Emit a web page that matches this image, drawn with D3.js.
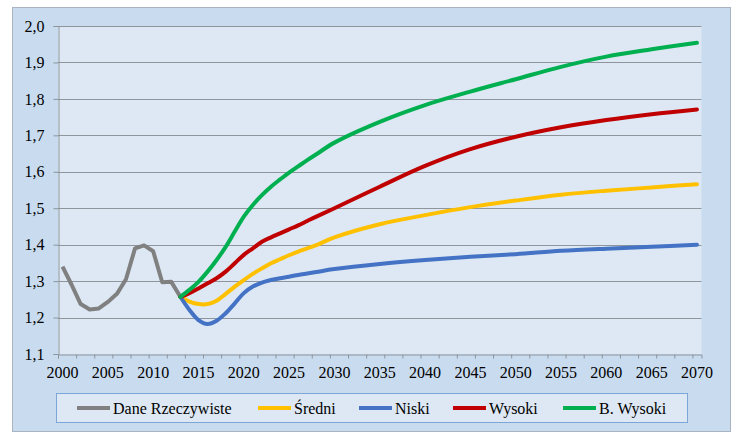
<!DOCTYPE html>
<html><head><meta charset="utf-8">
<script src="https://cdn.jsdelivr.net/npm/d3@7"></script>
<style>body{margin:0;background:#fff}svg{display:block}svg text{font-family:"Liberation Serif","DejaVu Serif",serif;}</style>
</head><body>
<script>
const actualYears = [2000,2001,2002,2003,2004,2005,2006,2007,2008,2009,2010,2011,2012,2013];
const actualValues = [1.34,1.29,1.237,1.222,1.225,1.243,1.265,1.305,1.39,1.398,1.382,1.297,1.298,1.257];

const projYears = [2013,2014,2015,2016,2017,2018,2019,2020,2021,2022,2023,2024,2025,2026,2027,2028,2030,2035,2040,2045,2050,2055,2060,2065,2070];
const sredni   = [1.257,1.244,1.237,1.237,1.246,1.265,1.285,1.303,1.320,1.335,1.349,1.360,1.371,1.381,1.390,1.399,1.420,1.456,1.481,1.503,1.521,1.537,1.548,1.557,1.566];
const niski    = [1.257,1.221,1.193,1.182,1.191,1.212,1.239,1.267,1.285,1.296,1.303,1.308,1.312,1.317,1.321,1.325,1.333,1.347,1.358,1.367,1.374,1.383,1.389,1.394,1.400];
const wysoki   = [1.257,1.267,1.280,1.294,1.308,1.326,1.349,1.372,1.390,1.408,1.420,1.431,1.442,1.453,1.465,1.477,1.500,1.559,1.616,1.662,1.696,1.722,1.742,1.758,1.771];
const bWysoki  = [1.257,1.276,1.298,1.326,1.358,1.394,1.436,1.477,1.509,1.536,1.559,1.579,1.598,1.615,1.632,1.648,1.680,1.737,1.783,1.820,1.854,1.888,1.916,1.936,1.954];

const yTicks = [1.1,1.2,1.3,1.4,1.5,1.6,1.7,1.8,1.9,2.0];
const xLabels = [2000,2005,2010,2015,2020,2025,2030,2035,2040,2045,2050,2055,2060,2065,2070];

const seriesNames = ["Dane Rzeczywiste","Średni","Niski","Wysoki","B. Wysoki"];
const seriesColors = ["#808080","#ffc000","#4472c4","#c00000","#00b050"];

const W = 745, H = 439;
const svg = d3.select("body").append("svg").attr("width", W).attr("height", H);

// outer frame
svg.append("rect").attr("x", 12.5).attr("y", 7.5).attr("width", 718).attr("height", 424)
  .attr("fill", "#c8dbef").attr("stroke", "#a9b4c0").attr("stroke-width", 1);

const L = 58, R = 701.5, T = 26, B = 354;
const x = d3.scaleLinear().domain([1999.5, 2070.5]).range([L, R]);
const y = d3.scaleLinear().domain([1.1, 2.0]).range([B, T]);

svg.append("rect").attr("x", L).attr("y", T).attr("width", R - L).attr("height", B - T).attr("fill", "#dde8f4");

// gridlines
svg.append("g").selectAll("line").data(yTicks.slice(1)).join("line")
  .attr("x1", L).attr("x2", R).attr("y1", d => Math.round(y(d)) + 0.5).attr("y2", d => Math.round(y(d)) + 0.5)
  .attr("stroke", "#8e959c").attr("stroke-width", 1);

// y axis
const yAxis = d3.axisLeft(y).tickValues(yTicks).tickSize(5).tickPadding(9)
  .tickFormat(d => d3.format(".1f")(d).replace(".", ","));
const gy = svg.append("g").attr("transform", `translate(${L + 0.5},0)`).call(yAxis);
gy.attr("font-family", null);
gy.select(".domain").attr("stroke", "#8e959c");
gy.selectAll(".tick line").attr("stroke", "#8e959c");
gy.selectAll("text").style("font-size", "16px").attr("fill", "#000");

// x axis: line + ticks every two categories
const tickPos = d3.range(1999.5, 2071, 2);
const xAxis = d3.axisBottom(x).tickValues(tickPos).tickSize(4).tickFormat("");
const gx = svg.append("g").attr("transform", `translate(0,${B + 0.5})`).call(xAxis);
gx.select(".domain").attr("stroke", "#8e959c");
gx.selectAll(".tick line").attr("stroke", "#8e959c");
svg.append("g").selectAll("text").data(xLabels).join("text")
  .attr("x", d => x(d)).attr("y", 378).attr("text-anchor", "middle")
  .style("font-size", "16px").attr("fill", "#000").text(d => d);

// lines
const linLine = d3.line().x(d => x(d[0])).y(d => y(d[1])).curve(d3.curveLinear);
const smoothLine = d3.line().x(d => x(d[0])).y(d => y(d[1])).curve(d3.curveCatmullRom.alpha(0.5));
const zip = (a, b) => a.map((v, i) => [v, b[i]]);

svg.append("path").datum(zip(actualYears, actualValues)).attr("d", linLine)
  .attr("fill", "none").attr("stroke", seriesColors[0]).attr("stroke-width", 4).attr("stroke-linejoin", "round");
[sredni, niski, wysoki, bWysoki].forEach((s, i) => {
  svg.append("path").datum(zip(projYears, s)).attr("d", smoothLine)
    .attr("fill", "none").attr("stroke", seriesColors[i + 1]).attr("stroke-width", 4)
    .attr("stroke-linejoin", "round").attr("stroke-linecap", "round");
});

// legend
svg.append("rect").attr("x", 56.5).attr("y", 393.5).attr("width", 631).attr("height", 29)
  .attr("fill", "#dde8f4").attr("stroke", "#7aa6d8").attr("stroke-width", 1);
const legX = [77, 258, 359, 453, 563];
const lg = svg.append("g").selectAll("g").data(seriesNames).join("g")
  .attr("transform", (d, i) => `translate(${legX[i]},408)`);
lg.append("line").attr("x1", 0).attr("x2", 33).attr("y1", 0).attr("y2", 0)
  .attr("stroke", (d, i) => seriesColors[i]).attr("stroke-width", 4);
lg.append("text").attr("x", 36).attr("y", 5.5).style("font-size", "16px")
  .attr("fill", "#000").text(d => d);
</script>
</body></html>
